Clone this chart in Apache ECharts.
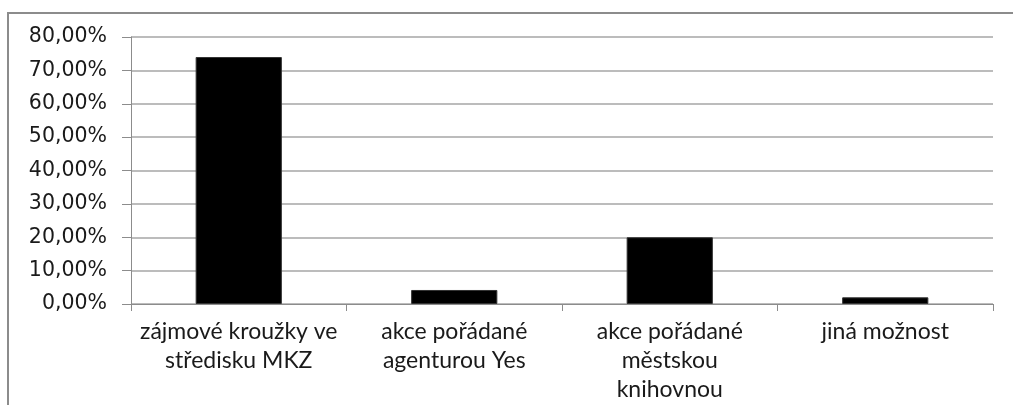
<!DOCTYPE html>
<html><head><meta charset="utf-8">
<script src="https://cdn.jsdelivr.net/npm/echarts@6/dist/echarts.min.js"></script>
<style>html,body{margin:0;padding:0;background:#fff}#c{width:1013px;height:405px}</style>
</head><body><div id="c"></div>
<script>
const categories = ['zájmové kroužky ve\nstředisku MKZ', 'akce pořádané\nagenturou Yes', 'akce pořádané\nměstskou\nknihovnou', 'jiná možnost'];
const values = [74, 4.2, 20, 2];
const yTicks = [0, 10, 20, 30, 40, 50, 60, 70, 80];

const chart = echarts.init(document.getElementById('c'));
chart.setOption({
  animation: false,
  backgroundColor: '#fff',
  graphic: [{
    type: 'rect', shape: {x: 8, y: 13, width: 1200, height: 600},
    style: {fill: 'none', stroke: '#8c8c8c', lineWidth: 2}, z: 100
  }],
  grid: {left: 131, right: 20, top: 37, bottom: 101},
  xAxis: {
    type: 'category', data: categories,
    axisLine: {lineStyle: {color: '#8c8c8c', width: 1}},
    axisTick: {show: true, alignWithLabel: false, length: 7, lineStyle: {color: '#8c8c8c'}},
    axisLabel: {color: '#1a1a1a', fontFamily: 'Lato', fontSize: 23, lineHeight: 29, margin: 13, interval: 0}
  },
  yAxis: {
    type: 'value', min: yTicks[0], max: yTicks[yTicks.length - 1], interval: 10,
    axisLine: {show: true, lineStyle: {color: '#8c8c8c', width: 1}},
    axisTick: {show: true, length: 9, lineStyle: {color: '#8c8c8c'}},
    splitLine: {lineStyle: {color: '#a6a6a6', width: 1.5}},
    axisLabel: {color: '#1a1a1a', fontFamily: 'DejaVu Sans', fontSize: 20.5, margin: 24,
      formatter: v => v.toFixed(2).replace('.', ',') + '%'}
  },
  series: [{
    type: 'bar', data: values, barWidth: '40%',
    itemStyle: {color: '#000', borderColor: '#333', borderWidth: 1}
  }]
});
</script></body></html>
